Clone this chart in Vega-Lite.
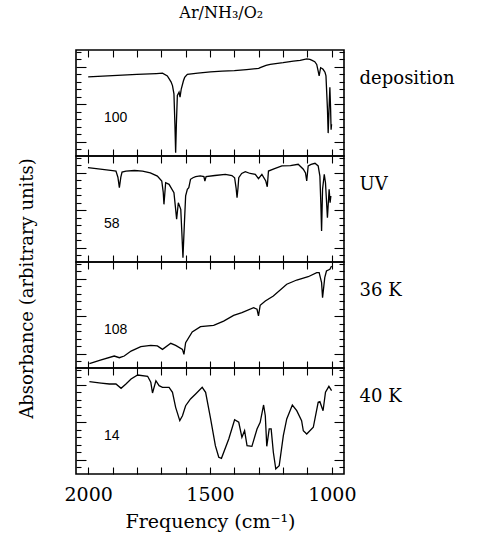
{
  "$schema": "https://vega.github.io/schema/vega-lite/v6.json",
  "padding": {"left": 17, "top": 4, "right": 5, "bottom": 5},
  "title": {"text": "Ar/NH₃/O₂", "font": "DejaVu Serif", "fontSize": 16, "fontWeight": "normal", "anchor": "middle", "offset": 28, "dx": -15},
  "datasets": {
    "deposition": [
      {"nu": 2000, "A": 74.7}, {"nu": 1900, "A": 75.8}, {"nu": 1800, "A": 77.0}, {"nu": 1720, "A": 77.8},
      {"nu": 1695, "A": 78.1}, {"nu": 1675, "A": 75.6}, {"nu": 1660, "A": 70.0}, {"nu": 1654, "A": 66.4},
      {"nu": 1648, "A": 58.6}, {"nu": 1644, "A": 30.0}, {"nu": 1641, "A": 3.1}, {"nu": 1638, "A": 30.0},
      {"nu": 1634, "A": 57.1}, {"nu": 1627, "A": 60.2}, {"nu": 1623, "A": 55.6}, {"nu": 1618, "A": 63.2},
      {"nu": 1609, "A": 71.0}, {"nu": 1604, "A": 74.1}, {"nu": 1593, "A": 77.1}, {"nu": 1550, "A": 78.2},
      {"nu": 1498, "A": 79.4}, {"nu": 1450, "A": 80.0}, {"nu": 1400, "A": 80.6}, {"nu": 1350, "A": 81.5},
      {"nu": 1300, "A": 82.6}, {"nu": 1294, "A": 83.3}, {"nu": 1270, "A": 85.5}, {"nu": 1253, "A": 86.4},
      {"nu": 1200, "A": 88.0}, {"nu": 1158, "A": 89.5}, {"nu": 1130, "A": 90.3}, {"nu": 1103, "A": 91.7},
      {"nu": 1090, "A": 91.2}, {"nu": 1083, "A": 90.5}, {"nu": 1070, "A": 89.0}, {"nu": 1062, "A": 86.4},
      {"nu": 1056, "A": 80.0}, {"nu": 1052, "A": 75.6}, {"nu": 1046, "A": 83.3}, {"nu": 1040, "A": 82.5},
      {"nu": 1036, "A": 81.8}, {"nu": 1028, "A": 79.0}, {"nu": 1024, "A": 75.6}, {"nu": 1018, "A": 44.7},
      {"nu": 1015, "A": 21.6}, {"nu": 1012, "A": 40.0}, {"nu": 1008, "A": 64.8}, {"nu": 1005, "A": 44.7},
      {"nu": 1003, "A": 24.7}, {"nu": 1001, "A": 30.0}
    ],
    "uv": [
      {"nu": 2001, "A": 89.0}, {"nu": 1950, "A": 87.6}, {"nu": 1900, "A": 86.2}, {"nu": 1886, "A": 85.8},
      {"nu": 1878, "A": 80.0}, {"nu": 1872, "A": 70.1}, {"nu": 1866, "A": 80.0}, {"nu": 1861, "A": 84.9},
      {"nu": 1845, "A": 85.8}, {"nu": 1810, "A": 86.3}, {"nu": 1777, "A": 85.8}, {"nu": 1745, "A": 84.0},
      {"nu": 1716, "A": 81.1}, {"nu": 1698, "A": 76.4}, {"nu": 1692, "A": 66.0}, {"nu": 1689, "A": 54.4},
      {"nu": 1685, "A": 66.0}, {"nu": 1682, "A": 74.8}, {"nu": 1668, "A": 73.3}, {"nu": 1648, "A": 65.4},
      {"nu": 1642, "A": 52.0}, {"nu": 1637, "A": 40.3}, {"nu": 1630, "A": 55.9}, {"nu": 1620, "A": 49.7},
      {"nu": 1615, "A": 25.0}, {"nu": 1611, "A": 4.1}, {"nu": 1605, "A": 37.1}, {"nu": 1600, "A": 62.3},
      {"nu": 1593, "A": 68.6}, {"nu": 1587, "A": 70.1}, {"nu": 1580, "A": 78.0}, {"nu": 1570, "A": 79.5},
      {"nu": 1559, "A": 80.5}, {"nu": 1540, "A": 81.2}, {"nu": 1525, "A": 80.5}, {"nu": 1521, "A": 76.4},
      {"nu": 1516, "A": 80.5}, {"nu": 1480, "A": 81.6}, {"nu": 1437, "A": 82.7}, {"nu": 1410, "A": 81.5},
      {"nu": 1399, "A": 79.5}, {"nu": 1393, "A": 70.0}, {"nu": 1389, "A": 60.7}, {"nu": 1385, "A": 70.0},
      {"nu": 1382, "A": 79.5}, {"nu": 1370, "A": 83.5}, {"nu": 1355, "A": 85.2}, {"nu": 1335, "A": 83.5},
      {"nu": 1314, "A": 82.7}, {"nu": 1301, "A": 78.6}, {"nu": 1287, "A": 82.7}, {"nu": 1271, "A": 76.4},
      {"nu": 1265, "A": 71.0}, {"nu": 1260, "A": 85.8}, {"nu": 1235, "A": 88.0}, {"nu": 1205, "A": 90.6},
      {"nu": 1170, "A": 91.0}, {"nu": 1138, "A": 92.2}, {"nu": 1117, "A": 87.5}, {"nu": 1108, "A": 84.0},
      {"nu": 1103, "A": 76.4}, {"nu": 1097, "A": 90.6}, {"nu": 1085, "A": 92.0}, {"nu": 1069, "A": 93.1},
      {"nu": 1056, "A": 90.6}, {"nu": 1049, "A": 81.1}, {"nu": 1045, "A": 55.0}, {"nu": 1042, "A": 29.2},
      {"nu": 1038, "A": 68.6}, {"nu": 1031, "A": 82.7}, {"nu": 1026, "A": 74.8}, {"nu": 1018, "A": 41.8},
      {"nu": 1011, "A": 68.6}, {"nu": 1007, "A": 55.9}, {"nu": 1004, "A": 62.3}
    ],
    "k36": [
      {"nu": 1995, "A": 4.1}, {"nu": 1950, "A": 7.5}, {"nu": 1893, "A": 11.3}, {"nu": 1872, "A": 9.7},
      {"nu": 1852, "A": 11.3}, {"nu": 1824, "A": 16.0}, {"nu": 1784, "A": 20.1}, {"nu": 1743, "A": 21.4},
      {"nu": 1716, "A": 20.8}, {"nu": 1695, "A": 17.6}, {"nu": 1661, "A": 23.3}, {"nu": 1641, "A": 21.4},
      {"nu": 1613, "A": 17.6}, {"nu": 1607, "A": 12.9}, {"nu": 1600, "A": 23.9}, {"nu": 1573, "A": 34.0},
      {"nu": 1539, "A": 39.0}, {"nu": 1485, "A": 40.3}, {"nu": 1444, "A": 44.3}, {"nu": 1403, "A": 49.7},
      {"nu": 1369, "A": 52.2}, {"nu": 1321, "A": 56.9}, {"nu": 1307, "A": 55.4}, {"nu": 1301, "A": 49.1},
      {"nu": 1294, "A": 59.2}, {"nu": 1273, "A": 63.2}, {"nu": 1240, "A": 67.9}, {"nu": 1185, "A": 79.0},
      {"nu": 1144, "A": 83.0}, {"nu": 1097, "A": 86.1}, {"nu": 1062, "A": 89.9}, {"nu": 1052, "A": 89.9},
      {"nu": 1042, "A": 80.5}, {"nu": 1038, "A": 66.3}, {"nu": 1029, "A": 85.2}, {"nu": 1022, "A": 91.5},
      {"nu": 1008, "A": 93.1}, {"nu": 1001, "A": 96.2}
    ],
    "k40": [
      {"nu": 1995, "A": 87.1}, {"nu": 1947, "A": 85.8}, {"nu": 1913, "A": 84.9}, {"nu": 1886, "A": 84.9},
      {"nu": 1865, "A": 80.8}, {"nu": 1845, "A": 84.9}, {"nu": 1824, "A": 89.6}, {"nu": 1797, "A": 93.4},
      {"nu": 1756, "A": 92.2}, {"nu": 1743, "A": 86.5}, {"nu": 1736, "A": 76.4}, {"nu": 1722, "A": 88.0},
      {"nu": 1709, "A": 83.3}, {"nu": 1695, "A": 81.8}, {"nu": 1668, "A": 81.8}, {"nu": 1654, "A": 77.1},
      {"nu": 1641, "A": 62.9}, {"nu": 1624, "A": 50.3}, {"nu": 1613, "A": 55.0}, {"nu": 1600, "A": 64.4},
      {"nu": 1580, "A": 70.8}, {"nu": 1559, "A": 75.5}, {"nu": 1532, "A": 81.8}, {"nu": 1518, "A": 77.1},
      {"nu": 1498, "A": 52.8}, {"nu": 1478, "A": 26.7}, {"nu": 1464, "A": 15.8}, {"nu": 1453, "A": 14.8},
      {"nu": 1423, "A": 33.0}, {"nu": 1399, "A": 51.2}, {"nu": 1382, "A": 48.8}, {"nu": 1369, "A": 34.6},
      {"nu": 1358, "A": 40.8}, {"nu": 1348, "A": 26.7}, {"nu": 1328, "A": 26.1}, {"nu": 1307, "A": 42.5},
      {"nu": 1294, "A": 48.8}, {"nu": 1280, "A": 65.1}, {"nu": 1273, "A": 55.0}, {"nu": 1267, "A": 26.1},
      {"nu": 1257, "A": 42.5}, {"nu": 1249, "A": 42.5}, {"nu": 1240, "A": 20.5}, {"nu": 1230, "A": 4.7},
      {"nu": 1216, "A": 7.8}, {"nu": 1199, "A": 36.1}, {"nu": 1185, "A": 51.9}, {"nu": 1162, "A": 65.1},
      {"nu": 1144, "A": 59.7}, {"nu": 1124, "A": 50.3}, {"nu": 1117, "A": 40.8}, {"nu": 1103, "A": 37.7},
      {"nu": 1076, "A": 44.1}, {"nu": 1056, "A": 67.6}, {"nu": 1049, "A": 68.2}, {"nu": 1036, "A": 59.7},
      {"nu": 1026, "A": 77.1}, {"nu": 1012, "A": 82.7}, {"nu": 1001, "A": 78.6}
    ]
  },
  "spacing": 0,
  "bounds": "flush",
  "vconcat": [
    {
      "width": 268, "height": 106,
      "resolve": {"axis": {"x": "independent", "y": "independent"}},
      "layer": [
        {
          "data": {"name": "deposition"},
          "mark": {"type": "line", "color": "black", "strokeWidth": 1.3},
          "encoding": {
            "x": {"field": "nu", "type": "quantitative", "scale": {"domain": [950, 2050], "reverse": true, "nice": false},
                  "axis": {"orient": "bottom", "values": [1000,1100,1200,1300,1400,1500,1600,1700,1800,1900,2000], "labels": false, "tickSize": -7, "title": null}},
            "y": {"field": "A", "type": "quantitative", "scale": {"domain": [0, 100], "nice": false},
                  "axis": {"orient": "left", "values": [6.4,13.5,20.6,27.6,34.7,41.8,48.9,55.9,63,70.1,77.2,84.3,91.3,98.4], "labels": false, "title": null,
                           "tickSize": {"condition": {"test": "datum.value == 13.5 || datum.value == 48.9 || datum.value == 84.3", "value": -10}, "value": -5}}}
          }
        },
        {
          "data": {"values": [{"factor": "100"}]},
          "mark": {"type": "text", "align": "left", "baseline": "middle", "font": "Liberation Sans", "fontSize": 14},
          "encoding": {
            "x": {"datum": 1935, "scale": {"domain": [950, 2050], "reverse": true, "nice": false},
                  "axis": {"orient": "top", "values": [1000,1100,1200,1300,1400,1500,1600,1700,1800,1900,2000], "labels": false, "tickSize": -7, "title": null}},
            "y": {"datum": 36, "scale": {"domain": [0, 100], "nice": false},
                  "axis": {"orient": "right", "values": [6.4,13.5,20.6,27.6,34.7,41.8,48.9,55.9,63,70.1,77.2,84.3,91.3,98.4], "labels": false, "title": null,
                  "tickSize": {"condition": {"test": "datum.value == 13.5 || datum.value == 48.9 || datum.value == 84.3", "value": -10}, "value": -5}}},
            "text": {"field": "factor"}
          }
        },
        {
          "data": {"values": [{"run": "deposition"}]},
          "mark": {"type": "text", "align": "left", "baseline": "middle", "font": "DejaVu Serif", "fontSize": 18},
          "encoding": {
            "x": {"datum": 886, "scale": {"domain": [950, 2050], "reverse": true, "nice": false}, "axis": null},
            "y": {"datum": 73, "scale": {"domain": [0, 100], "nice": false}, "axis": null},
            "text": {"field": "run"}
          }
        }
      ]
    },
    {
      "width": 268, "height": 106,
      "resolve": {"axis": {"x": "independent", "y": "independent"}},
      "layer": [
        {
          "data": {"name": "uv"},
          "mark": {"type": "line", "color": "black", "strokeWidth": 1.3},
          "encoding": {
            "x": {"field": "nu", "type": "quantitative", "scale": {"domain": [950, 2050], "reverse": true, "nice": false},
                  "axis": {"orient": "bottom", "values": [1000,1100,1200,1300,1400,1500,1600,1700,1800,1900,2000], "labels": false, "tickSize": -7, "title": null}},
            "y": {"field": "A", "type": "quantitative", "scale": {"domain": [0, 100], "nice": false},
                  "axis": {"orient": "left", "values": [6.4,13.5,20.6,27.6,34.7,41.8,48.9,55.9,63,70.1,77.2,84.3,91.3,98.4], "labels": false,
                           "title": "Absorbance (arbitrary units)", "titleFont": "DejaVu Serif", "titleFontSize": 18, "titleFontWeight": "normal", "titleX": -40, "titleY": 132,
                           "tickSize": {"condition": {"test": "datum.value == 13.5 || datum.value == 48.9 || datum.value == 84.3", "value": -10}, "value": -5}}}
          }
        },
        {
          "data": {"values": [{"factor": "58"}]},
          "mark": {"type": "text", "align": "left", "baseline": "middle", "font": "Liberation Sans", "fontSize": 14},
          "encoding": {
            "x": {"datum": 1935, "scale": {"domain": [950, 2050], "reverse": true, "nice": false},
                  "axis": {"orient": "top", "values": [1000,1100,1200,1300,1400,1500,1600,1700,1800,1900,2000], "labels": false, "tickSize": -7, "title": null}},
            "y": {"datum": 36, "scale": {"domain": [0, 100], "nice": false},
                  "axis": {"orient": "right", "values": [6.4,13.5,20.6,27.6,34.7,41.8,48.9,55.9,63,70.1,77.2,84.3,91.3,98.4], "labels": false, "title": null,
                  "tickSize": {"condition": {"test": "datum.value == 13.5 || datum.value == 48.9 || datum.value == 84.3", "value": -10}, "value": -5}}},
            "text": {"field": "factor"}
          }
        },
        {
          "data": {"values": [{"run": "UV"}]},
          "mark": {"type": "text", "align": "left", "baseline": "middle", "font": "DejaVu Serif", "fontSize": 18},
          "encoding": {
            "x": {"datum": 886, "scale": {"domain": [950, 2050], "reverse": true, "nice": false}, "axis": null},
            "y": {"datum": 73, "scale": {"domain": [0, 100], "nice": false}, "axis": null},
            "text": {"field": "run"}
          }
        }
      ]
    },
    {
      "width": 268, "height": 106,
      "resolve": {"axis": {"x": "independent", "y": "independent"}},
      "layer": [
        {
          "data": {"name": "k36"},
          "mark": {"type": "line", "color": "black", "strokeWidth": 1.3},
          "encoding": {
            "x": {"field": "nu", "type": "quantitative", "scale": {"domain": [950, 2050], "reverse": true, "nice": false},
                  "axis": {"orient": "bottom", "values": [1000,1100,1200,1300,1400,1500,1600,1700,1800,1900,2000], "labels": false, "tickSize": -7, "title": null}},
            "y": {"field": "A", "type": "quantitative", "scale": {"domain": [0, 100], "nice": false},
                  "axis": {"orient": "left", "values": [6.4,13.5,20.6,27.6,34.7,41.8,48.9,55.9,63,70.1,77.2,84.3,91.3,98.4], "labels": false, "title": null,
                           "tickSize": {"condition": {"test": "datum.value == 13.5 || datum.value == 48.9 || datum.value == 84.3", "value": -10}, "value": -5}}}
          }
        },
        {
          "data": {"values": [{"factor": "108"}]},
          "mark": {"type": "text", "align": "left", "baseline": "middle", "font": "Liberation Sans", "fontSize": 14},
          "encoding": {
            "x": {"datum": 1935, "scale": {"domain": [950, 2050], "reverse": true, "nice": false},
                  "axis": {"orient": "top", "values": [1000,1100,1200,1300,1400,1500,1600,1700,1800,1900,2000], "labels": false, "tickSize": -7, "title": null}},
            "y": {"datum": 36, "scale": {"domain": [0, 100], "nice": false},
                  "axis": {"orient": "right", "values": [6.4,13.5,20.6,27.6,34.7,41.8,48.9,55.9,63,70.1,77.2,84.3,91.3,98.4], "labels": false, "title": null,
                  "tickSize": {"condition": {"test": "datum.value == 13.5 || datum.value == 48.9 || datum.value == 84.3", "value": -10}, "value": -5}}},
            "text": {"field": "factor"}
          }
        },
        {
          "data": {"values": [{"run": "36 K"}]},
          "mark": {"type": "text", "align": "left", "baseline": "middle", "font": "DejaVu Serif", "fontSize": 18},
          "encoding": {
            "x": {"datum": 886, "scale": {"domain": [950, 2050], "reverse": true, "nice": false}, "axis": null},
            "y": {"datum": 73, "scale": {"domain": [0, 100], "nice": false}, "axis": null},
            "text": {"field": "run"}
          }
        }
      ]
    },
    {
      "width": 268, "height": 106,
      "resolve": {"axis": {"x": "independent", "y": "independent"}},
      "layer": [
        {
          "data": {"name": "k40"},
          "mark": {"type": "line", "color": "black", "strokeWidth": 1.3},
          "encoding": {
            "x": {"field": "nu", "type": "quantitative", "scale": {"domain": [950, 2050], "reverse": true, "nice": false},
                  "axis": {"orient": "bottom", "values": [1000,1100,1200,1300,1400,1500,1600,1700,1800,1900,2000], "tickSize": -7, "format": "d",
                           "labelExpr": "datum.value % 500 === 0 ? datum.label : ''", "labelFont": "DejaVu Serif", "labelFontSize": 19, "labelPadding": 18, "labelColor": "black",
                           "title": "Frequency (cm⁻¹)", "titleFont": "DejaVu Serif", "titleFontSize": 19, "titleFontWeight": "normal", "titlePadding": 8}},
            "y": {"field": "A", "type": "quantitative", "scale": {"domain": [0, 100], "nice": false},
                  "axis": {"orient": "left", "values": [6.4,13.5,20.6,27.6,34.7,41.8,48.9,55.9,63,70.1,77.2,84.3,91.3,98.4], "labels": false, "title": null,
                           "tickSize": {"condition": {"test": "datum.value == 13.5 || datum.value == 48.9 || datum.value == 84.3", "value": -10}, "value": -5}}}
          }
        },
        {
          "data": {"values": [{"factor": "14"}]},
          "mark": {"type": "text", "align": "left", "baseline": "middle", "font": "Liberation Sans", "fontSize": 14},
          "encoding": {
            "x": {"datum": 1935, "scale": {"domain": [950, 2050], "reverse": true, "nice": false},
                  "axis": {"orient": "top", "values": [1000,1100,1200,1300,1400,1500,1600,1700,1800,1900,2000], "labels": false, "tickSize": -7, "title": null}},
            "y": {"datum": 36, "scale": {"domain": [0, 100], "nice": false},
                  "axis": {"orient": "right", "values": [6.4,13.5,20.6,27.6,34.7,41.8,48.9,55.9,63,70.1,77.2,84.3,91.3,98.4], "labels": false, "title": null,
                  "tickSize": {"condition": {"test": "datum.value == 13.5 || datum.value == 48.9 || datum.value == 84.3", "value": -10}, "value": -5}}},
            "text": {"field": "factor"}
          }
        },
        {
          "data": {"values": [{"run": "40 K"}]},
          "mark": {"type": "text", "align": "left", "baseline": "middle", "font": "DejaVu Serif", "fontSize": 18},
          "encoding": {
            "x": {"datum": 886, "scale": {"domain": [950, 2050], "reverse": true, "nice": false}, "axis": null},
            "y": {"datum": 73, "scale": {"domain": [0, 100], "nice": false}, "axis": null},
            "text": {"field": "run"}
          }
        }
      ]
    }
  ],
  "config": {
    "view": {"stroke": "black", "strokeWidth": 1.6},
    "font": "DejaVu Serif",
    "axis": {"domain": false, "grid": false, "tickColor": "black", "tickWidth": 1.1, "labelColor": "black", "titleColor": "black"}
  }
}
